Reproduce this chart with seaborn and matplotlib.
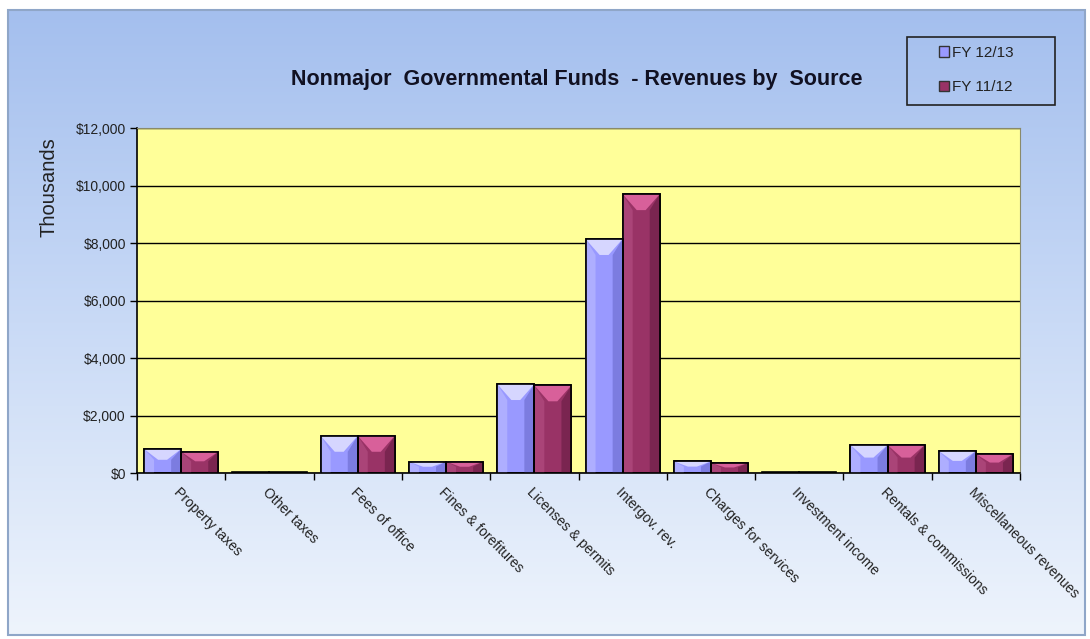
import numpy as np
import pandas as pd
import matplotlib
matplotlib.use("Agg")
import matplotlib.pyplot as plt
import matplotlib.transforms as mtransforms
import seaborn as sns
from matplotlib.patches import Polygon, Rectangle, Patch
from matplotlib.colors import LinearSegmentedColormap
from matplotlib.ticker import FuncFormatter

categories = ["Property taxes", "Other taxes", "Fees of office", "Fines & forefitures",
              "Licenses & permits", "Intergov. rev.", "Charges for services",
              "Investment income", "Rentals & commissions", "Miscellaneous revenues"]
fy1213 = [835, 20, 1295, 395, 3095, 8140, 405, 20, 975, 765]
fy1112 = [740, 20, 1295, 395, 3050, 9700, 350, 20, 975, 660]
series = ["FY 12/13", "FY 11/12"]
colors = ["#9999ff", "#993366"]

df = pd.DataFrame({
    "Category": categories * 2,
    "Series": [series[0]] * len(categories) + [series[1]] * len(categories),
    "Value": fy1213 + fy1112,
})

sns.set_theme(style="white")
plt.rcParams['font.family'] = ['Liberation Sans', 'DejaVu Sans']

W, H = 1090, 639
fig = plt.figure(figsize=(W / 100, H / 100), dpi=100, facecolor="white")

# background gradient frame
bg = fig.add_axes([0, 0, 1, 1], zorder=-10)
bg.set_xlim(0, 1); bg.set_ylim(0, 1); bg.axis("off")
grad = np.linspace(0, 1, 256)[:, None]
cmap = LinearSegmentedColormap.from_list("bg", ["#a4bfee", "#c9daf6", "#eef4fc"])
x0, x1 = 8 / W, 1085 / W
y0, y1 = 1 - 635 / H, 1 - 10 / H
bg.imshow(grad, aspect="auto", cmap=cmap, extent=[x0, x1, y0, y1], origin="upper", zorder=0)
bg.add_patch(Rectangle((x0, y0), x1 - x0, y1 - y0, fill=False, edgecolor="#8fa6c8", linewidth=1.5, zorder=1))

# main axes
L, R, T, B = 137, 1020, 128, 473
ax = fig.add_axes([L / W, 1 - B / H, (R - L) / W, (B - T) / H])
ax.set_facecolor("#ffff99")

sns.barplot(data=df, x="Category", y="Value", hue="Series", palette=colors,
            width=0.84, edgecolor="black", linewidth=1.2, ax=ax, legend=False,
            saturation=1, zorder=3)

ax.set_xlim(-0.5, len(categories) - 0.5)
ax.set_ylim(0, 12000)
ax.set_yticks(np.arange(0, 12001, 2000))
ax.yaxis.set_major_formatter(FuncFormatter(lambda v, p: f"${v:,.0f}"))
ax.yaxis.grid(True, color="black", linewidth=1)
ax.set_axisbelow(True)
ax.set_xlabel("")
ax.set_ylabel("")

# bevel effect computed from bar geometry
px_x = (R - L) / (len(categories))
px_y = (B - T) / 12000
light = {"#9999ff": ("#d6d6ff", "#aeaeff", "#7c7ce0"), "#993366": ("#d8609a", "#aa4478", "#7a2550")}
for p, c in zip(ax.patches, [colors[0]] * 10 + [colors[1]] * 10):
    x, y, w, h = p.get_x(), p.get_y(), p.get_width(), p.get_height()
    if h * px_y < 4:
        continue
    top_c, left_c, right_c = light[c]
    dy = min(16 / px_y, h * 0.45)
    dx = 10 / px_x
    top = y + h
    ax.add_patch(Polygon([(x, y), (x, top), (x + dx, top - dy), (x + dx, y)],
                         closed=True, facecolor=left_c, edgecolor="none", zorder=3.5))
    ax.add_patch(Polygon([(x + w, y), (x + w, top), (x + w - dx, top - dy), (x + w - dx, y)],
                         closed=True, facecolor=right_c, edgecolor="none", zorder=3.5))
    ax.add_patch(Polygon([(x, top), (x + w, top), (x + w * 0.62, top - dy), (x + w * 0.38, top - dy)],
                         closed=True, facecolor=top_c, edgecolor="none", zorder=3.6))
    ax.add_patch(Rectangle((x, y), w, h, fill=False, edgecolor="black", linewidth=1.2, zorder=3.8))

# ticks
ax.set_xticks(np.arange(len(categories)))
ax.set_xticklabels(categories, rotation=-45, ha="left", va="top", rotation_mode="anchor",
                   fontsize=10, color="#222222")
offset = mtransforms.ScaledTranslation(6 / 100, -1 / 100, fig.dpi_scale_trans)
for lbl in ax.get_xticklabels():
    lbl.set_transform(lbl.get_transform() + offset)
ax.set_xticks(np.arange(-0.5, len(categories), 1), minor=True)
ax.tick_params(axis="x", which="major", length=0, pad=9)
ax.tick_params(axis="x", which="minor", length=5, width=1, color="black", bottom=True, direction="out")
ax.tick_params(axis="y", length=5, width=1, color="black", left=True, direction="out",
               labelsize=10, labelcolor="#222222", pad=3)

for s in ["left", "bottom"]:
    ax.spines[s].set_color("black"); ax.spines[s].set_linewidth(1.2)
for s in ["top", "right"]:
    ax.spines[s].set_color("#8a8a6a"); ax.spines[s].set_linewidth(0.8)

# title, ylabel
fig.text(577 / W, 1 - 80 / H, "Nonmajor  Governmental Funds  - Revenues by  Source",
         fontsize=15.5, fontweight="bold", ha="center", va="center", color="#111122")
fig.text(49 / W, 1 - 187 / H, "Thousands", rotation=90, fontsize=14.5, ha="center", va="center",
         color="#222222")

# legend
bg.add_patch(Rectangle((907 / W, 1 - 105 / H), 148 / W, 68 / H, fill=False,
                       edgecolor="#222222", linewidth=1.2, zorder=2))
handles = [Patch(facecolor=c, edgecolor="#333333", linewidth=1) for c in colors]
fig.legend(handles, series, loc="center", bbox_to_anchor=(976 / W, 1 - 70 / H),
           frameon=False, fontsize=11, handlelength=0.7, handleheight=0.7,
           handletextpad=0.15, labelspacing=1.35, labelcolor="#222222")

fig.savefig("out.png", dpi=100, facecolor="white")
